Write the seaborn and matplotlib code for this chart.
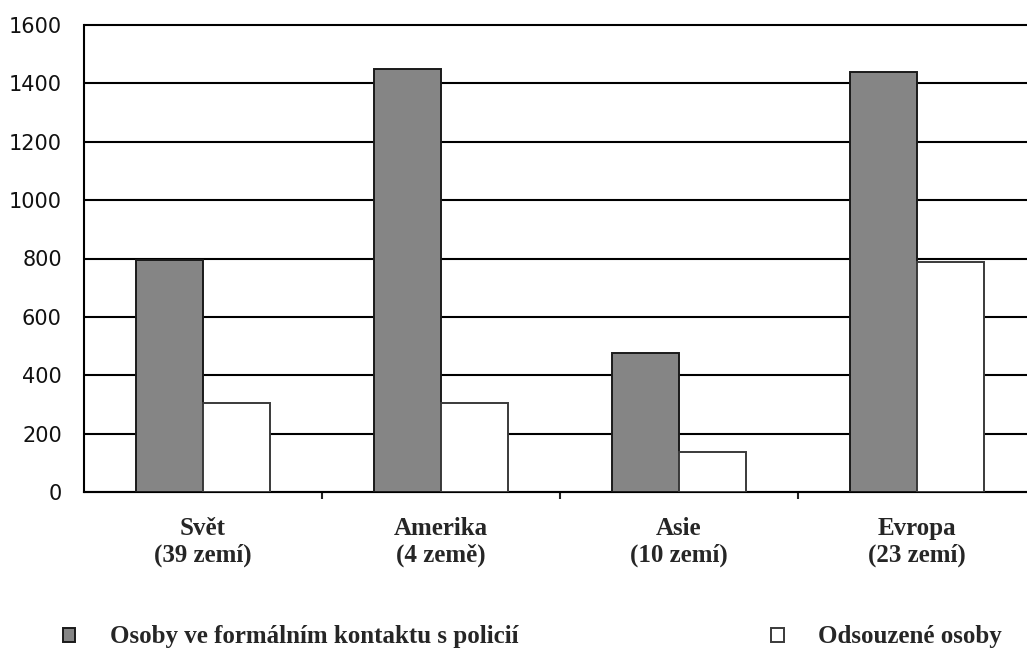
import numpy as np
import pandas as pd
import seaborn as sns
import matplotlib.pyplot as plt
from matplotlib.ticker import FixedLocator

# Data
regions = ["Svět\n(39 zemí)", "Amerika\n(4 země)", "Asie\n(10 zemí)", "Evropa\n(23 zemí)"]
police_contact = [795, 1450, 476, 1440]
convicted = [305, 305, 137, 789]
series_names = ["Osoby ve formálním kontaktu s policií", "Odsouzené osoby"]
y_ticks = [0, 200, 400, 600, 800, 1000, 1200, 1400, 1600]

df = pd.DataFrame({
    "region": regions * 2,
    "value": police_contact + convicted,
    "series": [series_names[0]] * len(regions) + [series_names[1]] * len(regions),
})

sns.set_theme(style="white")
plt.rcParams["font.family"] = ["DejaVu Sans"]

fig = plt.figure(figsize=(10.27, 6.49), dpi=100)
# right edge of the plot area is cut off by the figure, like the original
ax = fig.add_axes([84 / 1027, 157 / 649, 952 / 1027, 467 / 649])

sns.barplot(data=df, x="region", y="value", hue="series", order=regions,
            hue_order=series_names, palette=["#858585", "white"],
            width=0.56, ax=ax, legend=False, zorder=3)

# bar edges
for bar in ax.containers[0]:
    bar.set_edgecolor("#1a1a1a")
    bar.set_linewidth(1.4)
for bar in ax.containers[1]:
    bar.set_edgecolor("#3a3a3a")
    bar.set_linewidth(1.4)

ax.set_xlim(-0.5, 3.5)
ax.set_ylim(0, 1600)
ax.set_yticks(y_ticks)
ax.set_yticklabels([str(v) for v in y_ticks], fontsize=15, color="#111111")
ax.yaxis.grid(True, color="black", linewidth=1.5, zorder=0)
for gl in ax.get_ygridlines():
    gl.set_clip_on(False)
ax.set_axisbelow(True)
ax.set_xlabel("")
ax.set_ylabel("")

ax.tick_params(axis="y", length=0, pad=16)
ax.tick_params(axis="x", which="major", length=0, pad=18)
ax.xaxis.set_minor_locator(FixedLocator([0.5, 1.5, 2.5]))
ax.tick_params(axis="x", which="minor", length=5, width=1.5, color="#222222",
               direction="out", bottom=True)
for lbl in ax.get_xticklabels():
    lbl.set_fontfamily("Liberation Serif")
    lbl.set_fontweight("bold")
    lbl.set_fontsize(18)
    lbl.set_linespacing(1.2)

for side in ["top", "right"]:
    ax.spines[side].set_visible(False)
for side in ["left", "bottom"]:
    ax.spines[side].set_color("black")
    ax.spines[side].set_linewidth(1.5)

leg = fig.legend(ax.containers, series_names, loc="center left",
                 bbox_to_anchor=(40 / 1027, 12 / 649), ncol=2, frameon=False,
                 handlelength=0.5, handleheight=0.5, handletextpad=1.4,
                 columnspacing=10.1,
                 prop={"family": "Liberation Serif", "weight": "bold", "size": 18})

fig.savefig("out.png", dpi=100)
